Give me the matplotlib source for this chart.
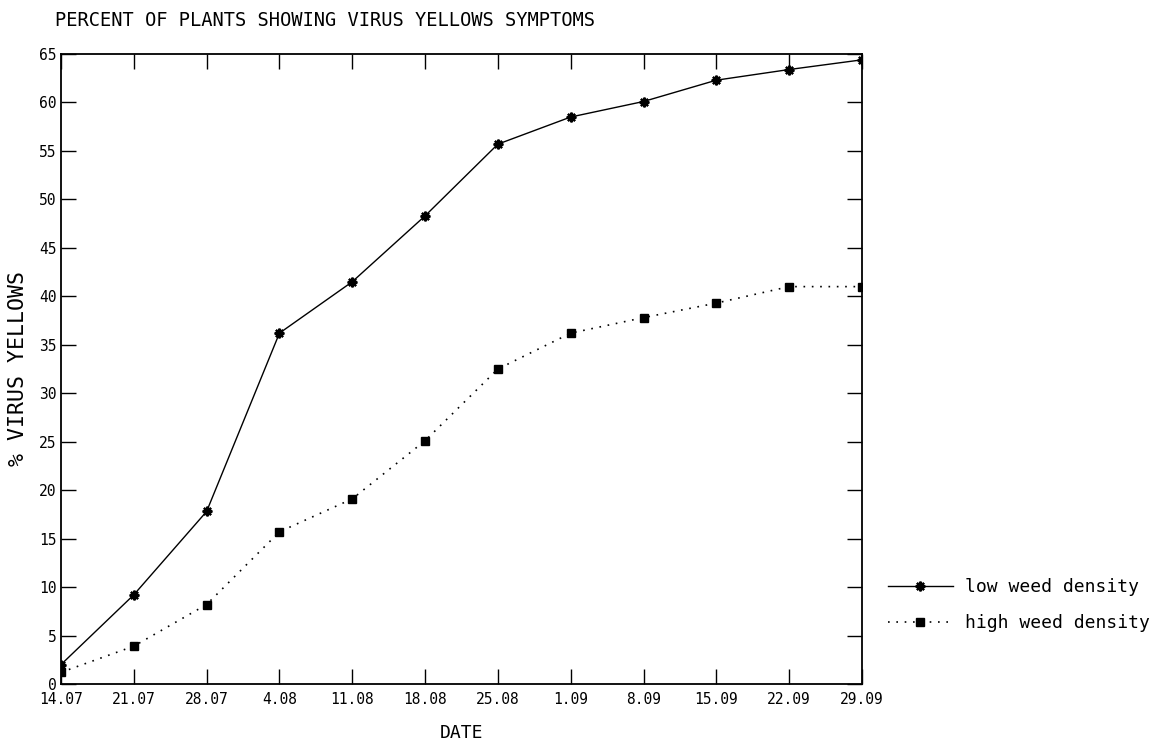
import matplotlib
matplotlib.use("Agg")
import numpy as np
from matplotlib import pyplot as plt

# weekly sampling dates
dates = ["14.07", "21.07", "28.07", "4.08", "11.08", "18.08",
         "25.08", "1.09", "8.09", "15.09", "22.09", "29.09"]

# % of plants with virus yellows symptoms
low_density = [2.0, 9.2, 17.8, 36.2, 41.5, 48.3, 55.7, 58.5, 60.1, 62.3, 63.4, 64.4]
high_density = [1.2, 3.9, 8.2, 15.7, 19.1, 25.1, 32.5, 36.2, 37.8, 39.3, 41.0, 41.0]

yticks = np.arange(0, 70, 5)

params = {
    "font.family": ["DejaVu Sans Mono"],
    "font.size": 10,
    "xtick.direction": "in",
    "ytick.direction": "in",
    "xtick.top": True,
    "ytick.right": True,
    "xtick.major.size": 11,
    "ytick.major.size": 11,
    "xtick.major.width": 1.0,
    "ytick.major.width": 1.0,
    "axes.linewidth": 1.3,
}
matplotlib.rcParams.update(params)

fig = plt.figure(figsize=(11.64, 7.42), dpi=100)
ax = fig.add_axes([0.0524, 0.0782, 0.6881, 0.849])

x = np.arange(len(dates))

ax.plot(x, low_density, color="black", linestyle="-", linewidth=1.0,
        marker=(8, 2, 0), markersize=7, markeredgewidth=1.6,
        label="low weed density")
ax.plot(x, high_density, color="black", linestyle=(0, (1, 4)), linewidth=1.2,
        marker="s", markersize=6, markerfacecolor="black",
        label="high weed density")

ax.set_xlim(0, len(dates) - 1)
ax.set_ylim(0, 65)
ax.set_xticks(x, dates)
ax.set_yticks(yticks)
ax.tick_params(axis="x", pad=6, labelsize=10.5)
ax.tick_params(axis="y", pad=3, labelsize=10.5)

ax.set_xlabel("DATE", fontsize=13, labelpad=12)
ax.set_ylabel("% VIRUS YELLOWS", fontsize=15.5, labelpad=8)
fig.text(0.047, 0.972, "PERCENT OF PLANTS SHOWING VIRUS YELLOWS SYMPTOMS",
         fontsize=13.5, ha="left", va="center")

ax.legend(loc="center left", bbox_to_anchor=(1.012, 0.125), frameon=False,
          fontsize=13, handlelength=3.6, handletextpad=0.7, labelspacing=1.0)

plt.savefig("out.png", dpi=100)
print("saved out.png")
